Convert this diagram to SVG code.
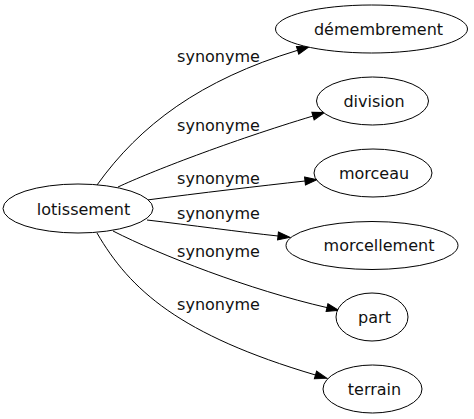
<svg xmlns="http://www.w3.org/2000/svg" width="474" height="419" viewBox="0 0 474 419">
<defs>
<style>
.node ellipse{fill:#fff;stroke:#000;stroke-width:1}
text{font-family:"DejaVu Sans",sans-serif;font-size:16px;fill:#111;text-anchor:middle}
.edge path{fill:none;stroke:#000;stroke-width:1}
</style>
<marker id="arr" markerUnits="userSpaceOnUse" markerWidth="14" markerHeight="10" refX="0" refY="0" viewBox="0 -5 14 10" orient="auto" overflow="visible">
<path d="M0,-4 L12,0 L0,4 z" fill="#000" stroke="#000" stroke-width="1"/>
</marker>
</defs>
<rect width="474" height="419" fill="#fff"/>
<g id="edges" class="edge">
<path d="M97,185 C140,125 200,80 297.6,50.3" marker-end="url(#arr)"/>
<path d="M118,187 C150,172 230,141 313,116" marker-end="url(#arr)"/>
<path d="M147,200 C200,193 260,186 305,181" marker-end="url(#arr)"/>
<path d="M147,220 C190,225 240,232 278,236" marker-end="url(#arr)"/>
<path d="M113,231 C160,255 250,290 327,307.6" marker-end="url(#arr)"/>
<path d="M97,233 C130,290 180,335 315.5,375" marker-end="url(#arr)"/>
<text x="218.5" y="62">synonyme</text>
<text x="218.5" y="131">synonyme</text>
<text x="218.5" y="184">synonyme</text>
<text x="218.5" y="219">synonyme</text>
<text x="218.5" y="257">synonyme</text>
<text x="218.5" y="310">synonyme</text>
</g>
<g id="lotissement" class="node"><ellipse cx="78" cy="208.5" rx="75" ry="24.5"/><text x="83.5" y="215">lotissement</text></g>
<g id="demembrement" class="node"><ellipse cx="371.5" cy="29" rx="96" ry="24"/><text x="378.5" y="35">démembrement</text></g>
<g id="division" class="node"><ellipse cx="372.5" cy="101" rx="56" ry="24"/><text x="374" y="107">division</text></g>
<g id="morceau" class="node"><ellipse cx="373" cy="173" rx="59" ry="24"/><text x="374" y="179">morceau</text></g>
<g id="morcellement" class="node"><ellipse cx="372" cy="245.5" rx="86" ry="24"/><text x="379" y="251">morcellement</text></g>
<g id="part" class="node"><ellipse cx="372" cy="317" rx="36" ry="24"/><text x="374.5" y="323">part</text></g>
<g id="terrain" class="node"><ellipse cx="372.5" cy="389" rx="49.5" ry="24"/><text x="374.5" y="395">terrain</text></g>
</svg>
